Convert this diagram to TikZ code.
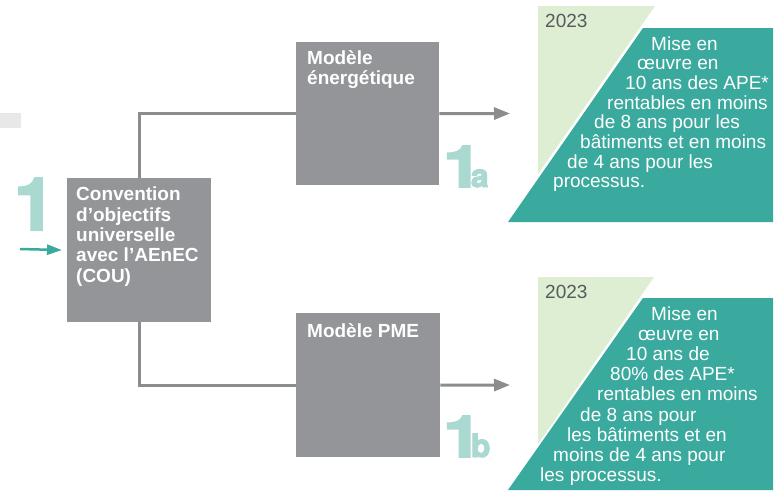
\documentclass[tikz,border=0pt]{standalone}
\usepackage{fontspec}
\setmainfont{Liberation Sans}
\newfontfamily\numfont[FakeBold=3]{TeX Gyre Heros Bold}
\usetikzlibrary{arrows.meta}
\definecolor{boxgray}{RGB}{147,149,152}
\definecolor{linegray}{RGB}{138,140,143}
\definecolor{tealdark}{RGB}{58,170,158}
\definecolor{lightgreen}{RGB}{221,238,211}
\definecolor{lightteal}{RGB}{170,217,209}
\definecolor{yeargray}{RGB}{88,89,91}
\begin{document}
\begin{tikzpicture}[x=1pt,y=-1pt,
  graybox/.style={fill=boxgray,draw=none,inner sep=0pt,anchor=north west},
  boxtext/.style={text=white,font=\bfseries\fontsize{19}{20.3}\selectfont,align=left,inner sep=0pt,anchor=north west},
  conn/.style={draw=linegray,line width=3pt},
  connarrow/.style={conn,-{Triangle[length=16pt,width=12pt]}},
  tealtext/.style={text=white,font=\fontsize{19}{20}\selectfont,inner sep=0pt,anchor=base west},
  yeartext/.style={text=yeargray,font=\fontsize{19}{20}\selectfont,inner sep=0pt,anchor=base west},
  numtext/.style={text=lightteal,font=\numfont,inner sep=0pt,anchor=base west}
]
\useasboundingbox (0,0) rectangle (779,491);
\fill[white] (0,0) rectangle (779,491);

% faint bar at left
\fill[black!9] (0,113) rectangle (21,128);

% right panels
\fill[lightgreen] (538,6) -- (655,6) -- (538,174) -- cycle;
\fill[tealdark] (643,28) -- (773,28) -- (773,222) -- (508,222) -- cycle;
\fill[lightgreen] (538,277) -- (654,277) -- (538,444) -- cycle;
\fill[tealdark] (643,298) -- (773,298) -- (773,490) -- (508,490) -- cycle;

% boxes
\node[graybox,minimum width=144pt,minimum height=144pt] (cou) at (67,178) {};
\node[graybox,minimum width=143pt,minimum height=143pt] (ma) at (296,42) {};
\node[graybox,minimum width=144pt,minimum height=144pt] (mb) at (296,313) {};

\node[boxtext] (coutxt) at (76,187) {Convention\\d’objectifs\\universelle\\avec l’AEnEC\\(COU)};
\node[boxtext] (matxt) at (307,50.5) {Modèle\\énergétique};
\node[boxtext] (mbtxt) at (307,323) {Modèle PME};

% connectors
\coordinate (enda) at (510,113.5);
\coordinate (endb) at (510,385);
\coordinate (start) at (20,249);
\draw[conn] (cou.north) |- (ma.west);
\draw[conn] (cou.south) |- (mb.west);
\draw[connarrow] (ma.east) -- (enda);
\draw[connarrow] (mb.east) -- (endb);
\draw[draw=tealdark,line width=2.5pt,shorten >=5pt,-{Triangle[length=15pt,width=10pt]}] (start) -- (cou.west);

% numbers
\node[numtext] (one) at (14,230) {\fontsize{73}{73}\selectfont 1};
\node[numtext] (onea) at (443,187) {\fontsize{58}{58}\selectfont\scalebox{1.2}[1]{1}\hspace{-11pt}\fontsize{32}{32}\selectfont a};
\node[numtext] (oneb) at (443,457) {\fontsize{58}{58}\selectfont\scalebox{1.2}[1]{1}\hspace{-11pt}\fontsize{32}{32}\selectfont b};

% years
\node[yeartext] (ya) at (545,27) {2023};
\node[yeartext] (yb) at (545,298) {2023};

% teal texts top
\foreach \xx/\t [count=\i] in {651/Mise en,637/œuvre en,625/10 ans des APE*,607/rentables en moins,594/de 8 ans pour les,580/bâtiments et en moins,567/de 4 ans pour les,553/processus.}
  \node[tealtext] (ta\i) at (\xx,{50+19.7*(\i-1)}) {\t};

% teal texts bottom
\foreach \xx/\t [count=\i] in {651/Mise en,638/œuvre en,626/10 ans de,610/80\% des APE*,597/rentables en moins,580/de 8 ans pour,567/les bâtiments et en,553/moins de 4 ans pour,540/les processus.}
  \node[tealtext] (tb\i) at (\xx,{320+20.2*(\i-1)}) {\t};
\end{tikzpicture}
\end{document}
